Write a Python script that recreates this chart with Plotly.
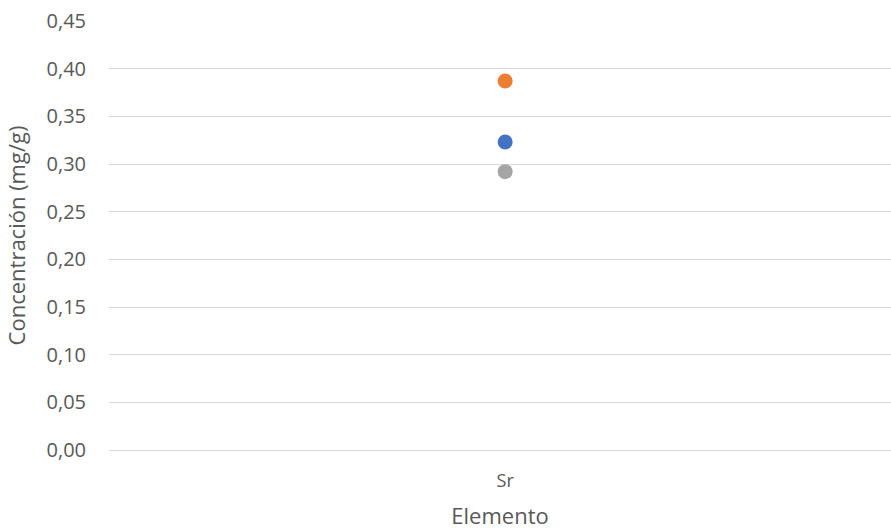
import plotly.graph_objects as go

# Strontium concentration for three samples
elements = ["Sr"]
series_names = ["Muestra 1", "Muestra 2", "Muestra 3"]
series_values = [[0.323], [0.387], [0.292]]
series_colors = ["#4472C4", "#ED7D31", "#A5A5A5"]
y_ticks = [0.00, 0.05, 0.10, 0.15, 0.20, 0.25, 0.30, 0.35, 0.40, 0.45]

fig = go.Figure()
for name, vals, col in zip(series_names, series_values, series_colors):
    fig.add_trace(go.Scatter(
        x=elements, y=vals, mode="markers", name=name,
        marker=dict(size=15, color=col, line=dict(width=0)),
    ))

text_col = "#595959"
grid_col = "#D9D9D9"
fig.update_layout(
    width=891, height=530,
    margin=dict(l=109, r=0, t=21, b=80),
    paper_bgcolor="white", plot_bgcolor="white",
    showlegend=False,
    separators=",.",
    font=dict(family="Open Sans", color=text_col, size=18),
    xaxis=dict(
        type="category", range=[-0.5, 0.487],
        showgrid=False, zeroline=False, showline=False,
        ticks="", tickfont=dict(size=18, color=text_col),
        ticklabelstandoff=18,
        title=dict(text="Elemento", font=dict(size=22, color=text_col), standoff=24),
    ),
    yaxis=dict(
        range=[0, 0.45], tickvals=y_ticks, tickformat=".2f",
        showgrid=True, gridcolor=grid_col, gridwidth=1.3,
        zeroline=True, zerolinecolor=grid_col, zerolinewidth=1.3,
        showline=False, ticks="",
        tickfont=dict(size=20, color=text_col),
        ticklabelstandoff=22,
        title=dict(text="Concentración (mg/g)", font=dict(size=22, color=text_col), standoff=14),
    ),
)

fig.write_html("out.html")
